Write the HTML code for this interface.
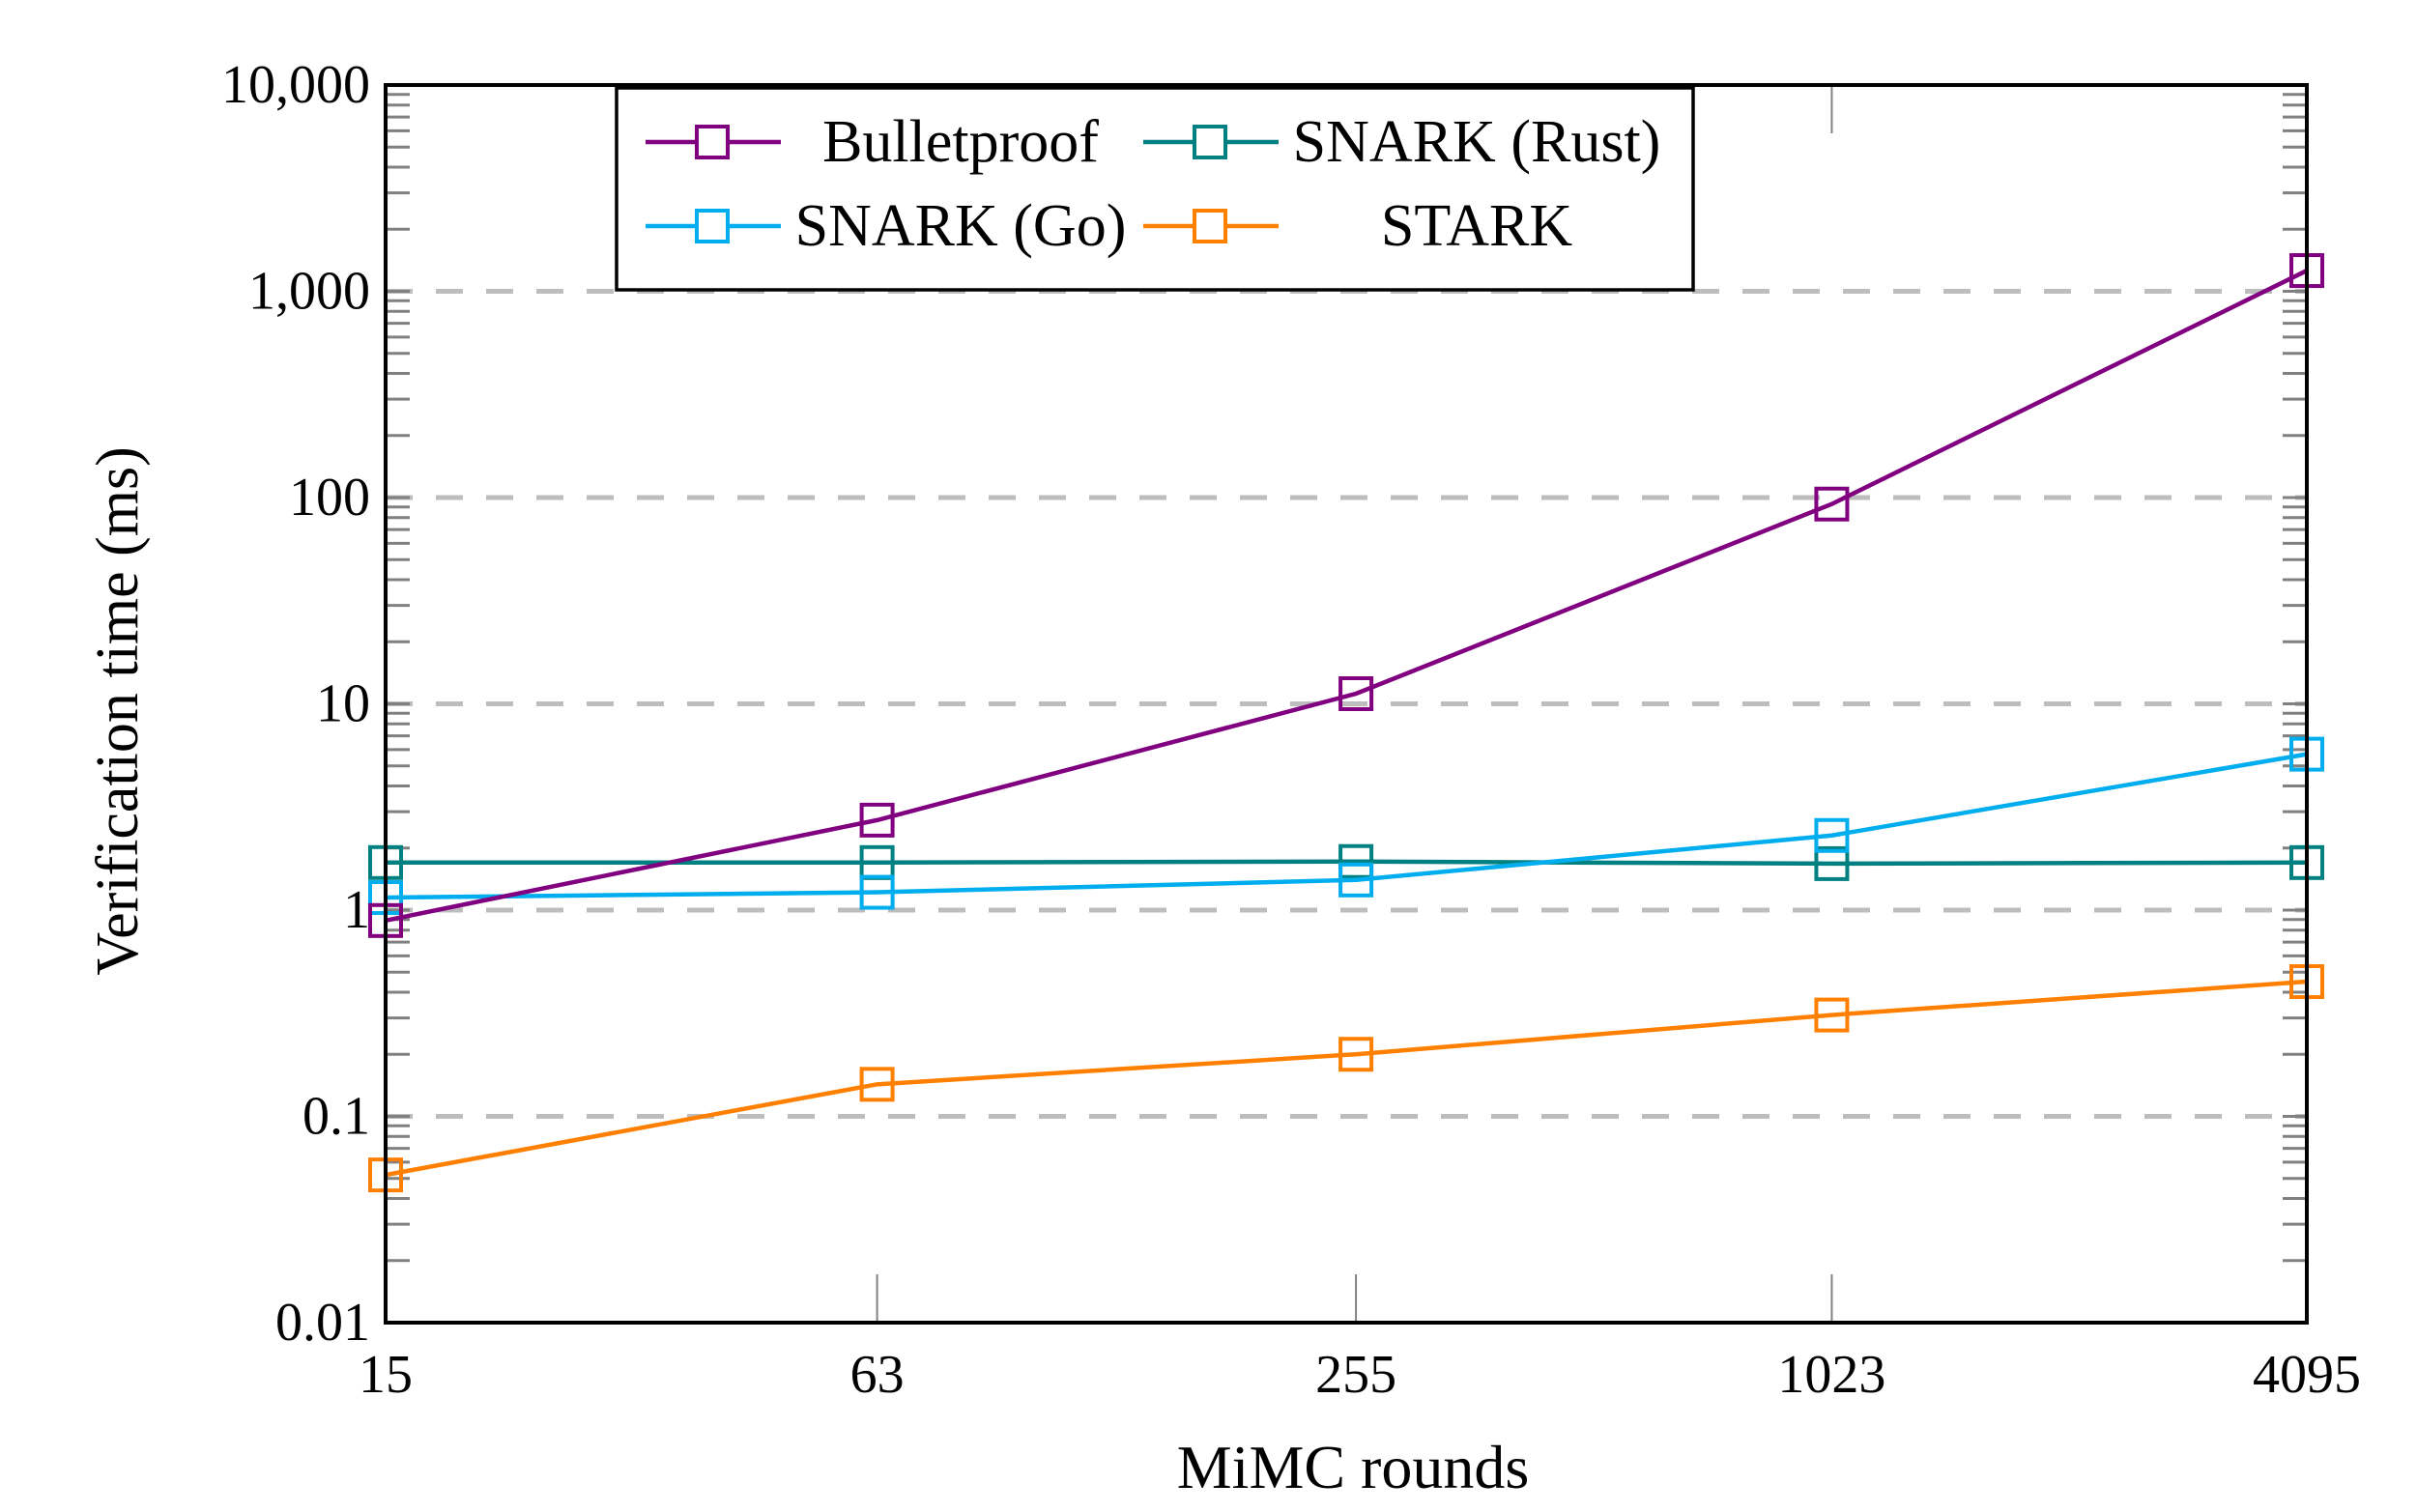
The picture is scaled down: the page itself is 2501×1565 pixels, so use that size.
<!DOCTYPE html>
<html><head><meta charset="utf-8"><style>
html,body{margin:0;padding:0;background:#fff}
svg text{font-family:"Liberation Serif",serif;fill:#000}
</style></head><body>
<svg id="chart" width="2501" height="1560" xmlns="http://www.w3.org/2000/svg">
<g id="grid"></g>
<g id="ticks"></g>
<g id="series"></g>
<rect x="399" y="88" width="1988" height="1281" fill="none" stroke="#000" stroke-width="4"/>
<g id="labels"></g>
<text x="1400" y="1540" font-size="64" text-anchor="middle">MiMC rounds</text>
<text transform="translate(142,736) rotate(-90)" font-size="62" text-anchor="middle">Verification time (ms)</text>
<g id="legend"></g>
</svg>
<script>
const categories=[15,63,255,1023,4095];
const yTickValues=[0.01,0.1,1,10,100,1000,10000];
const yTickLabels=["0.01","0.1","1","10","100","1,000","10,000"];
const seriesNames=["Bulletproof","SNARK (Rust)","SNARK (Go)","STARK"];
const seriesColors=["#800080","#008080","#00adef","#ff8000"];
const bulletproof=[0.89,2.73,11.2,93,1260];
const snarkRust=[1.7,1.7,1.72,1.68,1.7];
const snarkGo=[1.15,1.22,1.4,2.3,5.7];
const stark=[0.052,0.143,0.2,0.31,0.45];
const seriesValues=[bulletproof,snarkRust,snarkGo,stark];

const L=399,R=2387,T=88,B=1369;
const NS="http://www.w3.org/2000/svg";
const lx0=Math.log(categories[0]),lx1=Math.log(categories[categories.length-1]);
function xv(c){return L+(R-L)*(Math.log(c)-lx0)/(lx1-lx0);}
function xs(i){return xv(categories[i]);}
function ys(v){return B-(Math.log10(v)+2)*(B-T)/6;}
function mk(tag,attrs,parent){const e=document.createElementNS(NS,tag);for(const k in attrs)e.setAttribute(k,attrs[k]);parent.appendChild(e);return e;}
const grid=document.getElementById('grid'),ticks=document.getElementById('ticks'),labels=document.getElementById('labels'),series=document.getElementById('series'),legend=document.getElementById('legend');

yTickValues.forEach((v,i)=>{
  const y=ys(v);
  if(i>0&&i<yTickValues.length-1){
    const g=mk('line',{x1:L,x2:R,y1:y,y2:y,stroke:'#bdbdbd','stroke-width':5,'stroke-dasharray':'28 24'},grid);
    
    
  }
  const t=mk('text',{x:L-16,y:y+18,'font-size':56,'text-anchor':'end'},labels);
  t.textContent=yTickLabels[i];
  
  
  if(i<yTickValues.length-1){
    for(let m=2;m<=9;m++){
      const ym=ys(v*m);
      const a=mk('line',{x1:L,x2:L+25,y1:ym,y2:ym,stroke:'#808080','stroke-width':3},ticks);
      
      
      const b=mk('line',{x1:R-25,x2:R,y1:ym,y2:ym,stroke:'#808080','stroke-width':3},ticks);
      
      
    }
  }
  [[L,L+25],[R-25,R]].forEach(p=>{
    const mt=mk('line',{x1:p[0],x2:p[1],y1:y,y2:y,stroke:'#808080','stroke-width':3},ticks);
    
    
  });
});
categories.forEach((c,i)=>{
  const x=xs(i);
  [[B-50,B],[T,T+50]].forEach(p=>{
    const tk=mk('line',{x1:x,x2:x,y1:p[0],y2:p[1],stroke:'#808080','stroke-width':2},ticks);
    
    
  });
  const t=mk('text',{x:x,y:B+72,'font-size':56,'text-anchor':'middle'},labels);
  t.textContent=String(c);
  
  
});
const order=[1,2,0,3];
order.forEach(si=>{
  const vals=seriesValues[si],col=seriesColors[si];
  const g=mk('g',{},series);
  
  
  const pl=mk('polyline',{points:vals.map((v,i)=>xs(i)+','+ys(v)).join(' '),fill:'none',stroke:col,'stroke-width':4.5},g);
  
  
  vals.forEach((v,i)=>{
    const r=mk('rect',{x:xs(i)-16,y:ys(v)-16,width:32,height:32,fill:'none',stroke:col,'stroke-width':4},g);
    
    
  });
});
// legend
const box=mk('rect',{x:638,y:91,width:1114,height:209,fill:'#fff',stroke:'#000','stroke-width':3.5},legend);


const legPos=[[668,147,994],[1183,147,1528],[668,234,994],[1183,234,1528]];
const legIdx=[0,1,2,3];
legIdx.forEach((si,k)=>{
  const [lx,ly,tx]=legPos[k],col=seriesColors[si];
  const g=mk('g',{},legend);
  
  
  mk('line',{x1:lx,x2:lx+140,y1:ly,y2:ly,stroke:col,'stroke-width':4.5},g);
  mk('rect',{x:lx+53,y:ly-16,width:32,height:32,fill:'#fff',stroke:col,'stroke-width':4},g);
  const t=mk('text',{x:tx,y:ly+20,'font-size':62,'text-anchor':'middle'},g);
  t.textContent=seriesNames[si];
});
</script>
</body></html>
